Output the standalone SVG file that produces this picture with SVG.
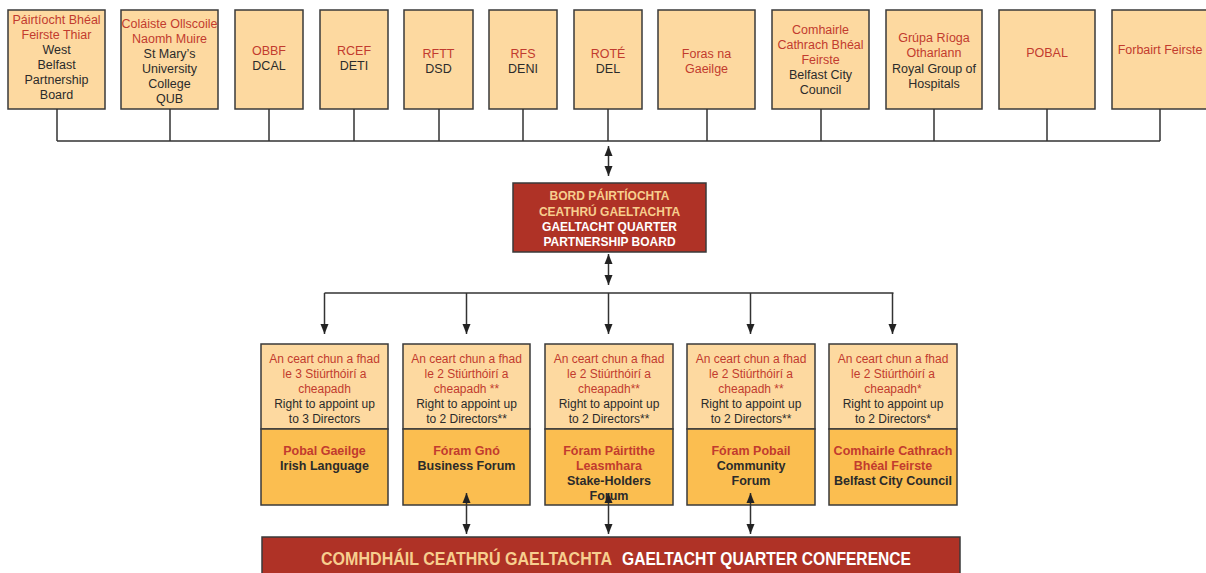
<svg xmlns="http://www.w3.org/2000/svg" width="1206" height="573" viewBox="0 0 1206 573">
<defs>
<style>
.box{fill:#FDD9A0;stroke:#3a3a3a;stroke-width:1.5}
.low{fill:#FBBE50;stroke:#3a3a3a;stroke-width:1.5}
.t{font-family:"Liberation Sans",Arial,sans-serif;font-size:12.5px;text-anchor:middle}
.s{font-family:"Liberation Sans",Arial,sans-serif;font-size:12px;text-anchor:middle}
.b{font-family:"Liberation Sans",Arial,sans-serif;font-size:12.5px;font-weight:bold;text-anchor:middle}
.r{fill:#C23B2E}
.k{fill:#2b2b2b}
.cb{font-family:"Liberation Sans",Arial,sans-serif;font-size:12px;font-weight:bold;text-anchor:middle}
.tan{fill:#F7CE8E}
.w{fill:#ffffff}
.ln{fill:none;stroke:#333;stroke-width:1.5}
.red{fill:#AF3226;stroke:#3a3a3a;stroke-width:1.5}
.bar{font-family:"Liberation Sans",Arial,sans-serif;font-size:18px;font-weight:bold}
</style>
<marker id="ah" viewBox="0 0 10 8" markerWidth="10" markerHeight="9" refX="10" refY="4" orient="auto-start-reverse" markerUnits="userSpaceOnUse">
<path d="M0,0 L10,4 L0,8 z" fill="#222"/>
</marker>
</defs>

<g id="top-1"><rect class="box" x="8" y="10" width="97" height="99"/>
<text class="t r" x="56.5" y="24">Páirtíocht Bhéal</text><text class="t r" x="56.5" y="39">Feirste Thiar</text>
<text class="t k" x="56.5" y="54">West</text><text class="t k" x="56.5" y="69">Belfast</text><text class="t k" x="56.5" y="84">Partnership</text><text class="t k" x="56.5" y="99">Board</text></g>
<g id="top-2"><rect class="box" x="121" y="10" width="97" height="99"/>
<text class="t r" x="169.5" y="27.5">Coláiste Ollscoile</text><text class="t r" x="169.5" y="42.5">Naomh Muire</text>
<text class="t k" x="169.5" y="57.5">St Mary’s</text><text class="t k" x="169.5" y="72.5">University</text><text class="t k" x="169.5" y="87.5">College</text><text class="t k" x="169.5" y="102.5">QUB</text></g>
<g id="top-3"><rect class="box" x="235" y="10" width="68" height="99"/><text class="t r" x="269" y="54.5">OBBF</text><text class="t k" x="269" y="69.5">DCAL</text></g>
<g id="top-4"><rect class="box" x="320" y="10" width="68" height="99"/><text class="t r" x="354" y="54.5">RCEF</text><text class="t k" x="354" y="69.5">DETI</text></g>
<g id="top-5"><rect class="box" x="404" y="10" width="69" height="99"/><text class="t r" x="438.5" y="57.5">RFTT</text><text class="t k" x="438.5" y="72.5">DSD</text></g>
<g id="top-6"><rect class="box" x="489" y="10" width="68" height="99"/><text class="t r" x="523" y="57.5">RFS</text><text class="t k" x="523" y="72.5">DENI</text></g>
<g id="top-7"><rect class="box" x="574" y="10" width="68" height="99"/><text class="t r" x="608" y="57.5">ROTÉ</text><text class="t k" x="608" y="72.5">DEL</text></g>
<g id="top-8"><rect class="box" x="658" y="10" width="97" height="99"/><text class="t r" x="706.5" y="57.5">Foras na</text><text class="t r" x="706.5" y="72.5">Gaeilge</text></g>
<g id="top-9"><rect class="box" x="772" y="10" width="97" height="99"/>
<text class="t r" x="820.5" y="33.5">Comhairle</text><text class="t r" x="820.5" y="48.5">Cathrach Bhéal</text><text class="t r" x="820.5" y="63.5">Feirste</text>
<text class="t k" x="820.5" y="78.5">Belfast City</text><text class="t k" x="820.5" y="93.5">Council</text></g>
<g id="top-10"><rect class="box" x="886" y="10" width="96" height="99"/>
<text class="t r" x="934" y="41.5">Grúpa Ríoga</text><text class="t r" x="934" y="56.5">Otharlann</text>
<text class="t k" x="934" y="72.5">Royal Group of</text><text class="t k" x="934" y="87.5">Hospitals</text></g>
<g id="top-11"><rect class="box" x="999" y="10" width="96" height="99"/><text class="t r" x="1047" y="56.5">POBAL</text></g>
<g id="top-12"><rect class="box" x="1112" y="10" width="97" height="99"/><text class="t r" x="1160" y="53.5">Forbairt Feirste</text></g>

<g id="board"><rect class="red" x="513" y="183" width="193" height="69"/>
<text class="cb tan" x="609.5" y="200">BORD PÁIRTÍOCHTA</text><text class="cb tan" x="609.5" y="216">CEATHRÚ GAELTACHTA</text>
<text class="cb w" x="609.5" y="231">GAELTACHT QUARTER</text><text class="cb w" x="609.5" y="246">PARTNERSHIP BOARD</text></g>

<g id="forum-1"><rect class="box" x="261" y="344" width="127" height="85"/><rect class="low" x="261" y="429" width="127" height="76"/>
<text class="s r" x="324.5" y="363">An ceart chun a fhad</text><text class="s r" x="324.5" y="378">le 3 Stiúrthóirí a</text><text class="s r" x="324.5" y="393">cheapadh</text>
<text class="s k" x="324.5" y="408">Right to appoint up</text><text class="s k" x="324.5" y="423">to 3 Directors</text>
<text class="b r" x="324.5" y="455">Pobal Gaeilge</text><text class="b k" x="324.5" y="470">Irish Language</text></g>
<g id="forum-2"><rect class="box" x="403" y="344" width="127" height="85"/><rect class="low" x="403" y="429" width="127" height="76"/>
<text class="s r" x="466.5" y="363">An ceart chun a fhad</text><text class="s r" x="466.5" y="378">le 2 Stiúrthóirí a</text><text class="s r" x="466.5" y="393">cheapadh **</text>
<text class="s k" x="466.5" y="408">Right to appoint up</text><text class="s k" x="466.5" y="423">to 2 Directors**</text>
<text class="b r" x="466.5" y="455">Fóram Gnó</text><text class="b k" x="466.5" y="470">Business Forum</text></g>
<g id="forum-3"><rect class="box" x="545" y="344" width="128" height="85"/><rect class="low" x="545" y="429" width="128" height="76"/>
<text class="s r" x="609" y="363">An ceart chun a fhad</text><text class="s r" x="609" y="378">le 2 Stiúrthóirí a</text><text class="s r" x="609" y="393">cheapadh**</text>
<text class="s k" x="609" y="408">Right to appoint up</text><text class="s k" x="609" y="423">to 2 Directors**</text>
<text class="b r" x="609" y="455">Fóram Páirtithe</text><text class="b r" x="609" y="470">Leasmhara</text><text class="b k" x="609" y="485">Stake-Holders</text><text class="b k" x="609" y="500">Forum</text></g>
<g id="forum-4"><rect class="box" x="687" y="344" width="128" height="85"/><rect class="low" x="687" y="429" width="128" height="76"/>
<text class="s r" x="751" y="363">An ceart chun a fhad</text><text class="s r" x="751" y="378">le 2 Stiúrthóirí a</text><text class="s r" x="751" y="393">cheapadh **</text>
<text class="s k" x="751" y="408">Right to appoint up</text><text class="s k" x="751" y="423">to 2 Directors**</text>
<text class="b r" x="751" y="455">Fóram Pobail</text><text class="b k" x="751" y="470">Community</text><text class="b k" x="751" y="485">Forum</text></g>
<g id="forum-5"><rect class="box" x="829" y="344" width="128" height="85"/><rect class="low" x="829" y="429" width="128" height="76"/>
<text class="s r" x="893" y="363">An ceart chun a fhad</text><text class="s r" x="893" y="378">le 2 Stiúrthóirí a</text><text class="s r" x="893" y="393">cheapadh*</text>
<text class="s k" x="893" y="408">Right to appoint up</text><text class="s k" x="893" y="423">to 2 Directors*</text>
<text class="b r" x="893" y="455">Comhairle Cathrach</text><text class="b r" x="893" y="470">Bhéal Feirste</text><text class="b k" x="893" y="485">Belfast City Council</text></g>

<g id="conference"><rect class="red" x="262" y="537" width="698" height="45"/>
<text class="bar" x="612" y="565" text-anchor="end" textLength="291" lengthAdjust="spacingAndGlyphs" fill="#F7CE8E">COMHDHÁIL CEATHRÚ GAELTACHTA</text>
<text class="bar" x="622" y="565" textLength="289" lengthAdjust="spacingAndGlyphs" fill="#ffffff">GAELTACHT QUARTER CONFERENCE</text></g>

<g id="connectors">
<path class="ln" d="M57,109V141M170,109V141M269,109V141M354,109V141M439,109V141M523,109V141M608,109V141M707,109V141M821,109V141M934,109V141M1047,109V141M1160,109V141M57,141H1160"/>
<line class="ln" x1="608.5" y1="146" x2="608.5" y2="176" marker-start="url(#ah)" marker-end="url(#ah)"/>
<line class="ln" x1="608.5" y1="254" x2="608.5" y2="285" marker-start="url(#ah)" marker-end="url(#ah)"/>
<path class="ln" d="M324.5,293H893.5"/>
<line class="ln" x1="324.5" y1="293" x2="324.5" y2="334" marker-end="url(#ah)"/>
<line class="ln" x1="466.5" y1="293" x2="466.5" y2="334" marker-end="url(#ah)"/>
<line class="ln" x1="608.5" y1="293" x2="608.5" y2="334" marker-end="url(#ah)"/>
<line class="ln" x1="750.5" y1="293" x2="750.5" y2="334" marker-end="url(#ah)"/>
<line class="ln" x1="892.5" y1="293" x2="892.5" y2="334" marker-end="url(#ah)"/>
<line class="ln" x1="466.5" y1="493" x2="466.5" y2="534" marker-start="url(#ah)" marker-end="url(#ah)"/>
<line class="ln" x1="608.5" y1="493" x2="608.5" y2="534" marker-start="url(#ah)" marker-end="url(#ah)"/>
<line class="ln" x1="750.5" y1="493" x2="750.5" y2="534" marker-start="url(#ah)" marker-end="url(#ah)"/>
</g>
</svg>
